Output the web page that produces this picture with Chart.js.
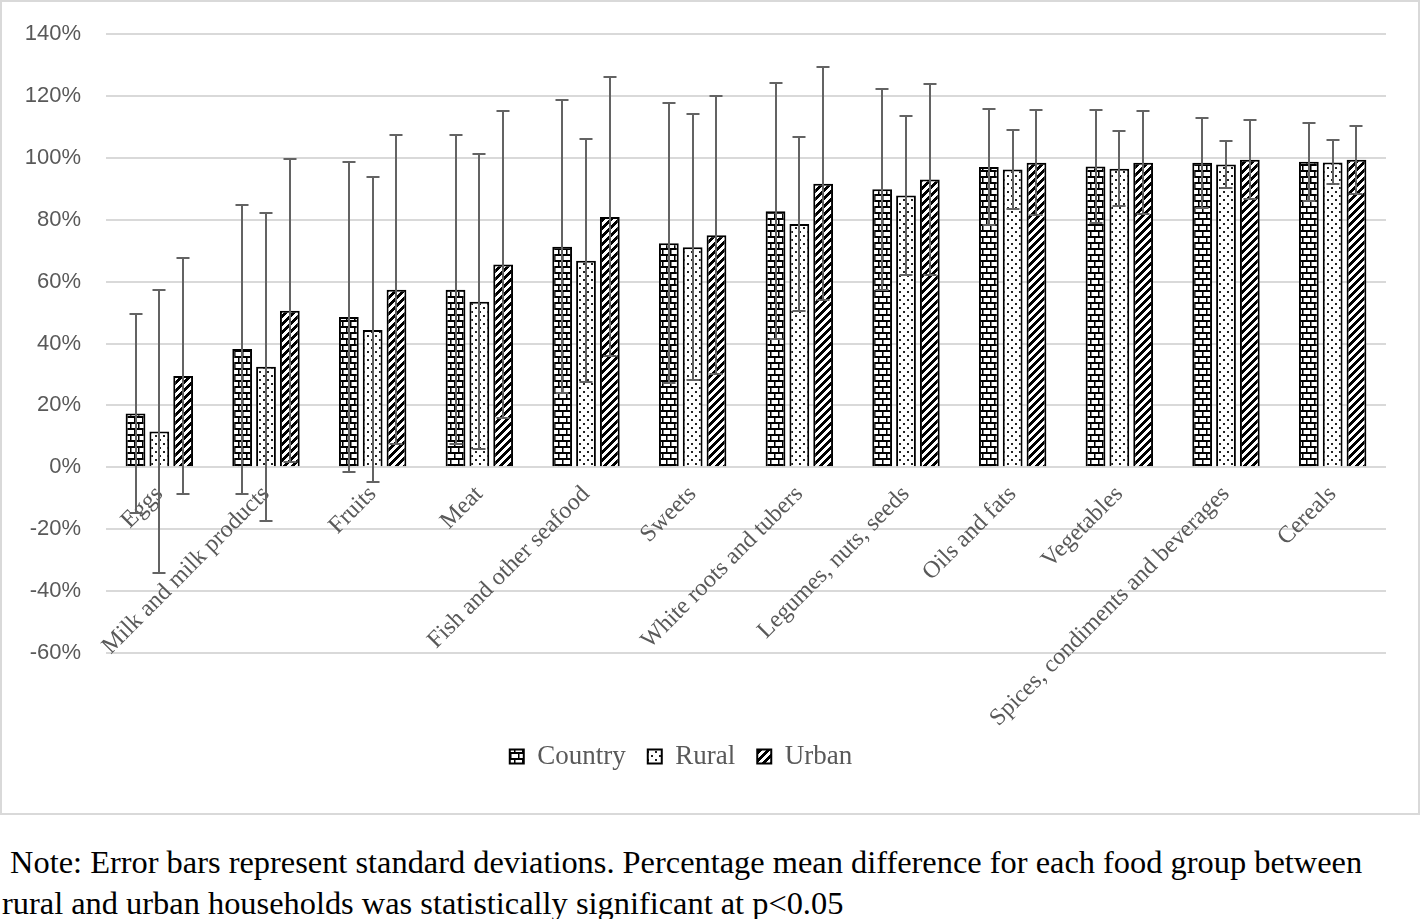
<!DOCTYPE html>
<html>
<head>
<meta charset="utf-8">
<script src="https://cdn.jsdelivr.net/npm/chart.js@4.4.1/dist/chart.umd.min.js"></script>
<style>
  html, body { margin: 0; padding: 0; background: #ffffff; }
  #frame { position: absolute; left: 0; top: 0; width: 1416px; height: 811px; border: 2px solid #d9d9d9; }
  #wrap { position: absolute; left: 0; top: 0; width: 1416px; height: 811px; }
  #note { position: absolute; left: 2px; top: 842px; font-family: "Liberation Serif", "Times New Roman", serif; font-size: 32.4px; line-height: 41px; color: #000; white-space: pre; }
</style>
</head>
<body>
<div id="frame"><div id="wrap"><canvas id="c"></canvas></div></div>
<div id="note"> Note: Error bars represent standard deviations. Percentage mean difference for each food group between
rural and urban households was statistically significant at p&lt;0.05</div>
<script>
// ---- data ----
const categories = ['Eggs', 'Milk and milk products', 'Fruits', 'Meat', 'Fish and other seafood', 'Sweets',
  'White roots and tubers', 'Legumes, nuts, seeds', 'Oils and fats', 'Vegetables',
  'Spices, condiments and beverages', 'Cereals'];
const seriesNames = ['Country', 'Rural', 'Urban'];
const countryMean = [17.4, 38.2, 48.6, 57.4, 71.3, 72.4, 82.7, 89.8, 97.0, 97.2, 98.4, 98.7];
const countrySD   = [32.2, 46.7, 50.0, 49.9, 47.3, 45.2, 41.4, 32.4, 18.7, 18.2, 14.5, 12.5];
const ruralMean   = [11.6, 32.5, 44.4, 53.5, 66.7, 71.1, 78.6, 87.8, 96.2, 96.5, 97.8, 98.5];
const ruralSD     = [45.6, 49.8, 49.3, 47.6, 39.3, 43.0, 28.0, 25.6, 12.9, 12.1, 7.6, 7.1];
const urbanMean   = [29.5, 50.6, 57.4, 65.5, 80.9, 75.0, 91.6, 93.0, 98.4, 98.4, 99.4, 99.4];
const urbanSD     = [38.0, 49.0, 49.9, 49.5, 45.1, 45.0, 37.7, 30.8, 17.0, 16.6, 12.7, 11.0];
const yTickValues = [-60, -40, -20, 0, 20, 40, 60, 80, 100, 120, 140];

// ---- patterns ----
function makePattern(w, h, draw) {
  const c = document.createElement('canvas');
  c.width = w; c.height = h;
  const g = c.getContext('2d');
  g.fillStyle = '#ffffff'; g.fillRect(0, 0, w, h);
  draw(g);
  return g.createPattern(c, 'repeat');
}
const brick = makePattern(8, 12, g => {
  g.fillStyle = '#000';
  g.fillRect(0, 0, 8, 2);
  g.fillRect(0, 6, 8, 2);
  g.fillRect(0, 2, 1, 4);
  g.fillRect(4, 8, 1, 4);
  g.fillStyle = '#7a7a7a';
  g.fillRect(1, 2, 1, 4);
  g.fillRect(5, 8, 1, 4);
});
const dots = makePattern(8, 8, g => {
  g.fillStyle = '#222';
  g.fillRect(1, 1, 2, 2);
  g.fillRect(5, 5, 2, 2);
});
const diag = makePattern(8, 8, g => {
  g.fillStyle = '#000';
  for (let y = 0; y < 8; y++) for (let x = 0; x < 8; x++) {
    if (((x + y) % 8) < 4) g.fillRect(x, y, 1, 1);
  }
});

const errorBars = {
  id: 'errorBars',
  afterDatasetsDraw(chart) {
    const ctx = chart.ctx;
    const ys = chart.scales.y;
    ctx.save();
    ctx.strokeStyle = '#636363';
    ctx.lineWidth = 2;
    chart.data.datasets.forEach((ds, di) => {
      const meta = chart.getDatasetMeta(di);
      meta.data.forEach((bar, i) => {
        const m = ds.data[i], sd = ds.errorSD[i];
        const x = Math.round(bar.x);
        const yt = Math.round(ys.getPixelForValue(m + sd));
        const yb = Math.round(ys.getPixelForValue(m - sd));
        ctx.beginPath();
        ctx.moveTo(x, yt); ctx.lineTo(x, yb);
        ctx.moveTo(x - 6.5, yt); ctx.lineTo(x + 6.5, yt);
        ctx.moveTo(x - 6.5, yb); ctx.lineTo(x + 6.5, yb);
        ctx.stroke();
      });
    });
    ctx.restore();
  }
};

const legendShift = {
  id: 'legendShift',
  afterLayout(chart) {
    const L = chart.legend;
    if (!L) return;
    const c = (L.left + L.right) / 2;
    const dx = 679 - c;
    L.left += dx; L.right += dx;
  }
};

function ds(label, data, sd, pat) {
  return {
    label, data, errorSD: sd,
    backgroundColor: pat,
    borderColor: '#000000',
    borderWidth: 2,
    categoryPercentage: 0.67,
    barPercentage: 0.83
  };
}

new Chart(document.getElementById('c'), {
  type: 'bar',
  data: {
    labels: categories,
    datasets: [
      ds(seriesNames[0], countryMean, countrySD, brick),
      ds(seriesNames[1], ruralMean, ruralSD, dots),
      ds(seriesNames[2], urbanMean, urbanSD, diag)
    ]
  },
  options: {
    responsive: true,
    maintainAspectRatio: false,
    animation: false,
    layout: { padding: { top: 32, left: 0, right: 32, bottom: 33 } },
    plugins: {
      tooltip: { enabled: false },
      legend: {
        position: 'bottom',
        labels: {
          boxWidth: 14, boxHeight: 14, padding: 22,
          color: '#595959',
          font: { family: '"Liberation Serif", "Times New Roman", serif', size: 27 }
        }
      }
    },
    scales: {
      x: {
        position: { y: 0 },
        grid: { display: false, drawTicks: false },
        border: { display: false },
        ticks: {
          autoSkip: false, maxRotation: 45, minRotation: 45, padding: 13,
          color: '#595959',
          font: { family: '"Liberation Serif", "Times New Roman", serif', size: 24 }
        }
      },
      xSpace: {
        type: 'category',
        position: 'bottom',
        grid: { display: false, drawTicks: false },
        border: { display: false },
        ticks: { display: false },
        afterFit(s) { s.height = 68; }
      },
      y: {
        min: -60, max: 140,
        afterBuildTicks(s) { s.ticks = yTickValues.map(v => ({ value: v })); },
        grid: { color: '#d9d9d9', lineWidth: 2, drawTicks: true, tickLength: 25, tickColor: 'rgba(0,0,0,0)' },
        border: { display: false },
        ticks: {
          padding: 0,
          color: '#595959',
          font: { family: '"Liberation Sans", Arial, sans-serif', size: 22 },
          callback: v => v + '%'
        },
        afterFit(s) { s.width = 104; }
      }
    }
  },
  plugins: [errorBars, legendShift]
});
</script>
</body>
</html>
